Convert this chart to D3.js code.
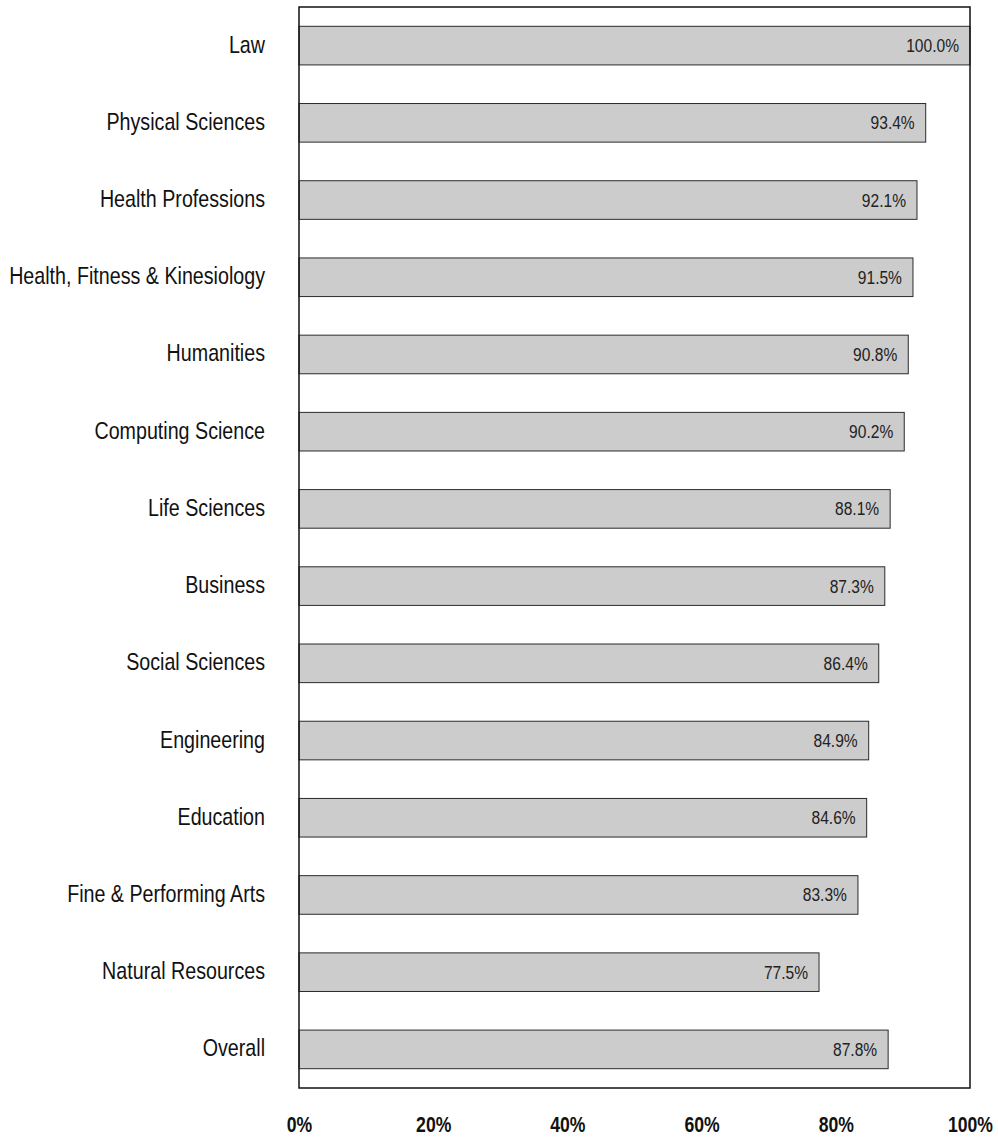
<!DOCTYPE html>
<html>
<head>
<meta charset="utf-8">
<script src="https://cdn.jsdelivr.net/npm/d3@7"></script>
<style>
  body { margin: 0; background: #fff; }
  svg { display: block; }
</style>
</head>
<body>
<svg id="chart" width="998" height="1137"></svg>
<script>
// Share of respondents by field of study
const categories = [
  "Law", "Physical Sciences", "Health Professions", "Health, Fitness & Kinesiology",
  "Humanities", "Computing Science", "Life Sciences", "Business", "Social Sciences",
  "Engineering", "Education", "Fine & Performing Arts", "Natural Resources", "Overall"
];
const values = [100.0, 93.4, 92.1, 91.5, 90.8, 90.2, 88.1, 87.3, 86.4, 84.9, 84.6, 83.3, 77.5, 87.8];
const tickValues = [0, 20, 40, 60, 80, 100];

const svg = d3.select("#chart");
const plot = { left: 299, right: 970, top: 7, bottom: 1088 };
const narrow = 0.82;          // horizontal squeeze for the narrow label face
const labelFont = "'Liberation Sans', Arial, sans-serif";

const x = d3.scaleLinear().domain([0, 100]).range([plot.left, plot.right]);
const y = d3.scaleBand().domain(categories).range([plot.top, plot.bottom]).paddingInner(0.5).paddingOuter(0.25);

// bars
svg.append("g").selectAll("rect")
  .data(values)
  .join("rect")
  .attr("x", x(0))
  .attr("y", (d, i) => y(categories[i]))
  .attr("width", d => x(d) - x(0))
  .attr("height", y.bandwidth())
  .attr("fill", "#cccccc")
  .attr("stroke", "#2b2b2b")
  .attr("stroke-width", 1);

// value labels inside bar ends
svg.append("g").selectAll("text")
  .data(values)
  .join("text")
  .attr("transform", (d, i) => `translate(${x(d) - 11},${y(categories[i]) + y.bandwidth() / 2 + 6.5}) scale(${narrow},1)`)
  .attr("text-anchor", "end")
  .attr("font-family", labelFont)
  .attr("font-size", 19)
  .attr("fill", "#222")
  .text(d => d.toFixed(1) + "%");

// plot frame
svg.append("rect")
  .attr("x", plot.left).attr("y", plot.top)
  .attr("width", plot.right - plot.left).attr("height", plot.bottom - plot.top)
  .attr("fill", "none").attr("stroke", "#111").attr("stroke-width", 1.5);

// category axis
const yAxis = svg.append("g")
  .attr("transform", `translate(${plot.left},0)`)
  .call(d3.axisLeft(y).tickSize(0).tickPadding(34));
yAxis.select(".domain").remove();
yAxis.selectAll("text")
  .attr("x", -34 / narrow)
  .attr("dy", null)
  .attr("y", 7)
  .attr("transform", `scale(${narrow},1)`)
  .attr("font-family", labelFont)
  .attr("font-size", 24)
  .attr("fill", "#111");

// percentage axis
const tickSqueeze = 0.8;
const xAxis = svg.append("g")
  .attr("transform", `translate(0,${plot.bottom})`)
  .call(d3.axisBottom(x).tickValues(tickValues).tickSize(0).tickFormat(d => d + "%"));
xAxis.select(".domain").remove();
xAxis.selectAll("text")
  .attr("y", 44)
  .attr("dy", null)
  .attr("transform", `scale(${tickSqueeze},1)`)
  .attr("font-family", "'Liberation Sans', Arial, sans-serif")
  .attr("font-weight", "bold")
  .attr("font-size", 22)
  .attr("fill", "#111");
</script>
</body>
</html>
